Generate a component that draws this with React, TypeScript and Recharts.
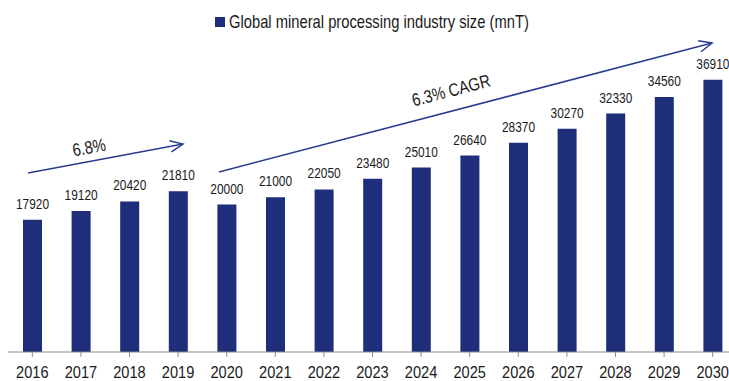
import React from 'react';
import { BarChart, Bar, XAxis, YAxis, LabelList, Customized } from 'recharts';

const years = ['2016','2017','2018','2019','2020','2021','2022','2023','2024','2025','2026','2027','2028','2029','2030'];
const sizes = [17920,19120,20420,21810,20000,21000,22050,23480,25010,26640,28370,30270,32330,34560,36910];
const seriesName = 'Global mineral processing industry size (mnT)';
const annotations = ['6.8%', '6.3% CAGR'];

const data = years.map((y, i) => ({ year: y, size: sizes[i] }));

const FONT = '"Liberation Sans", Arial, sans-serif';
const BAR = '#1f2e7a';
const ARROW = '#2a3c8f';
const INK = '#1a1a1a';

// Narrow text: emulate a condensed face by horizontal scaling
const NarrowText = ({ x, y, size, sx, anchor = 'start', rotate = 0, baseline, children }: any) => (
  <g transform={`translate(${x} ${y}) rotate(${rotate}) scale(${sx} 1)`}>
    <text x={0} y={0} fontSize={size} fontFamily={FONT} fill={INK} textAnchor={anchor} dominantBaseline={baseline}>
      {children}
    </text>
  </g>
);

const Arrow = ({ x1, y1, x2, y2 }: { x1: number; y1: number; x2: number; y2: number }) => {
  const ang = Math.atan2(y2 - y1, x2 - x1);
  const L = 14;
  const spread = 0.42;
  const ax = x2 - L * Math.cos(ang - spread);
  const ay = y2 - L * Math.sin(ang - spread);
  const bx = x2 - L * Math.cos(ang + spread);
  const by = y2 - L * Math.sin(ang + spread);
  return (
    <g stroke={ARROW} strokeWidth={1.5} fill="none">
      <line x1={x1} y1={y1} x2={x2} y2={y2} />
      <polyline points={`${ax},${ay} ${x2},${y2} ${bx},${by}`} />
    </g>
  );
};

const Overlay = () => (
  <g>
    <rect x={215} y={17} width={10} height={10} fill={BAR} />
    <NarrowText x={229} y={28} size={18} sx={0.82}>{seriesName}</NarrowText>
    <Arrow x1={28} y1={173} x2={183} y2={144} />
    <Arrow x1={219} y1={172} x2={712} y2={43} />
    <NarrowText x={89} y={147} size={18} sx={0.82} anchor="middle" baseline="central" rotate={-10.6}>{annotations[0]}</NarrowText>
    <NarrowText x={451} y={90} size={18} sx={0.82} anchor="middle" baseline="central" rotate={-14.7}>{annotations[1]}</NarrowText>
  </g>
);

const YearTick = (props: any) => {
  const { x, payload } = props;
  return (
    <NarrowText x={x} y={378} size={17} sx={0.86} anchor="middle">{payload.value}</NarrowText>
  );
};

const ValueLabel = (props: any) => {
  const { x, y, width, value } = props;
  return (
    <NarrowText x={Number(x) + Number(width) / 2} y={Number(y) - 11} size={14} sx={0.85} anchor="middle">{value}</NarrowText>
  );
};

export default function App() {
  return (
    <div style={{ position: 'fixed', left: 0, top: 0, width: 729, height: 381, overflow: 'hidden', background: '#fff' }}>
      <BarChart width={737} height={381} data={data} margin={{ top: 57, right: 0, bottom: 0, left: 8 }}>
        <XAxis
          dataKey="year"
          height={29}
          interval={0}
          tickSize={5}
          stroke="#8c8c8c"
          tickLine={{ stroke: '#8c8c8c' }}
          axisLine={{ stroke: '#8c8c8c' }}
          tick={<YearTick />}
        />
        <YAxis hide domain={[0, 40000]} />
        <Bar dataKey="size" fill={BAR} barSize={19} isAnimationActive={false}>
          <LabelList dataKey="size" position="top" content={<ValueLabel />} />
        </Bar>
        <Customized component={Overlay} />
      </BarChart>
    </div>
  );
}
